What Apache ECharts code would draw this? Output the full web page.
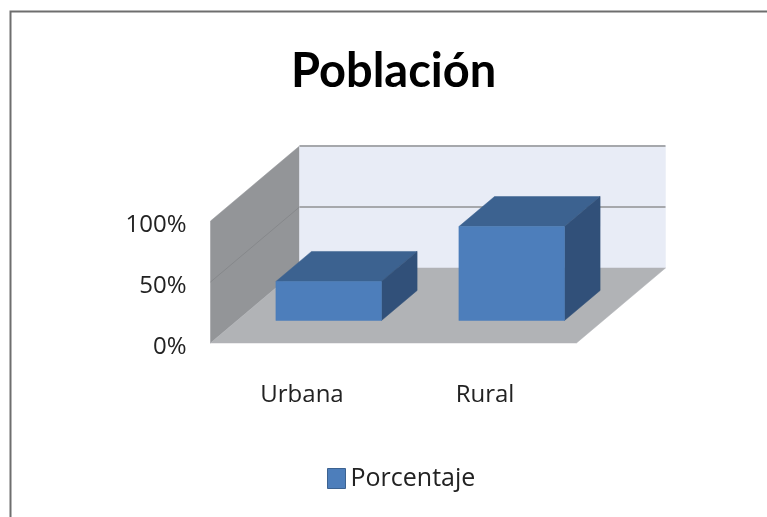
<!DOCTYPE html>
<html>
<head>
<meta charset="utf-8">
<title>Población</title>
<style>
  html, body { margin: 0; padding: 0; background: #fff; }
  #chart { width: 767px; height: 517px; }
</style>
</head>
<body>
<div id="chart"></div>
<script src="https://cdn.jsdelivr.net/npm/echarts@6/dist/echarts.min.js"></script>
<script>
const categories = ['Urbana', 'Rural']
const porcentaje = [32, 77]
const yTicks = [0, 50, 100]

// fake 3D: how far the back wall sits from the front plane
const depthX = 89
const depthY = -75
const frontGap = 0.3
const barDepth = 0.4
const barRatio = 0.577

const labelFont = 'Open Sans'

const poly = (points, fill) => ({
  type: 'polygon',
  shape: { points },
  style: { fill, stroke: fill, lineWidth: 0.5 }
})

const line = (a, b, stroke, lineWidth) => ({
  type: 'line',
  shape: { x1: a[0], y1: a[1], x2: b[0], y2: b[1] },
  style: { stroke, lineWidth }
})

const renderScene = (params, api) => {
  const cs = params.coordSys
  const left = cs.x
  const right = cs.x + cs.width
  const children = []
  const bottom = api.coord([0, 0])[1]
  const top = api.coord([0, yTicks[yTicks.length - 1]])[1]

  // side wall, back wall, floor
  children.push(poly([[left, bottom], [left, top], [left + depthX, top + depthY], [left + depthX, bottom + depthY]], '#939598'))
  children.push(poly([[left + depthX, top + depthY], [right + depthX, top + depthY], [right + depthX, bottom + depthY], [left + depthX, bottom + depthY]], '#e8ecf6'))
  children.push(poly([[left, bottom], [left + depthX, bottom + depthY], [right + depthX, bottom + depthY], [right, bottom]], '#b1b3b6'))

  yTicks.slice(1).forEach((tick) => {
    const y = api.coord([0, tick])[1]
    if (tick !== yTicks[yTicks.length - 1]) {
      children.push(line([left, y], [left + depthX, y + depthY], '#86888b', 1))
    }
    children.push(line([left + depthX, y + depthY], [right + depthX, y + depthY], '#a6a8ac', 2))
  })
  return { type: 'group', children }
}

const renderBar = (params, api) => {
  const base = api.coord([api.value(0), 0])
  const tip = api.coord([api.value(0), api.value(1)])
  const w = api.size([1, 0])[0] * barRatio
  const ox = depthX * frontGap
  const oy = depthY * frontGap
  const dx = depthX * barDepth
  const dy = depthY * barDepth
  const x0 = base[0] - w / 2 + ox
  const x1 = base[0] + w / 2 + ox
  const yb = base[1] + oy
  const yt = tip[1] + oy
  return {
    type: 'group',
    children: [
      poly([[x0, yt], [x0 + dx, yt + dy], [x1 + dx, yt + dy], [x1, yt]], '#3c6290'),
      poly([[x1, yt], [x1 + dx, yt + dy], [x1 + dx, yb + dy], [x1, yb]], '#315079'),
      poly([[x0, yb], [x0, yt], [x1, yt], [x1, yb]], '#4d7ebb')
    ]
  }
}

const chart = echarts.init(document.getElementById('chart'), null, { renderer: 'canvas' })
chart.setOption({
  animation: false,
  backgroundColor: '#fff',
  title: {
    text: 'Población',
    left: 286,
    top: 43,
    textStyle: { fontFamily: 'Lato', fontSize: 47, fontWeight: 'bold', color: '#000' }
  },
  legend: {
    data: ['Porcentaje'],
    left: 322,
    top: 461,
    icon: 'rect',
    itemWidth: 18,
    itemHeight: 20,
    itemGap: 7,
    itemStyle: { borderColor: '#3c6290', borderWidth: 1 },
    textStyle: { fontFamily: labelFont, fontSize: 25, color: '#222' }
  },
  grid: { left: 210.5, top: 221, width: 366, height: 122 },
  xAxis: {
    type: 'category',
    data: categories,
    axisLine: { show: false },
    axisTick: { show: false },
    axisLabel: { margin: 40, fontFamily: labelFont, fontSize: 24, color: '#222' }
  },
  yAxis: {
    type: 'value',
    min: 0,
    max: 100,
    interval: 50,
    axisLine: { show: false },
    axisTick: { show: false },
    splitLine: { show: false },
    axisLabel: {
      formatter: '{value}%',
      margin: 24,
      verticalAlign: 'top',
      lineHeight: 9,
      fontFamily: labelFont,
      fontSize: 24,
      color: '#222'
    }
  },
  series: [
    {
      name: 'escena',
      type: 'custom',
      silent: true,
      clip: false,
      z: 1,
      renderItem: renderScene,
      data: [[0, 0]]
    },
    {
      name: 'Porcentaje',
      type: 'custom',
      clip: false,
      z: 2,
      encode: { x: 0, y: 1 },
      itemStyle: { color: '#4d7ebb' },
      renderItem: renderBar,
      data: porcentaje.map((v, i) => [i, v])
    }
  ],
  graphic: [
    {
      // outer frame, runs off the right and bottom of the crop
      type: 'polyline',
      silent: true,
      shape: { points: [[10.5, 517], [10.5, 11.5], [767, 11.5]] },
      style: { stroke: '#6e6e6e', fill: null, lineWidth: 2 }
    }
  ]
})
</script>
</body>
</html>
